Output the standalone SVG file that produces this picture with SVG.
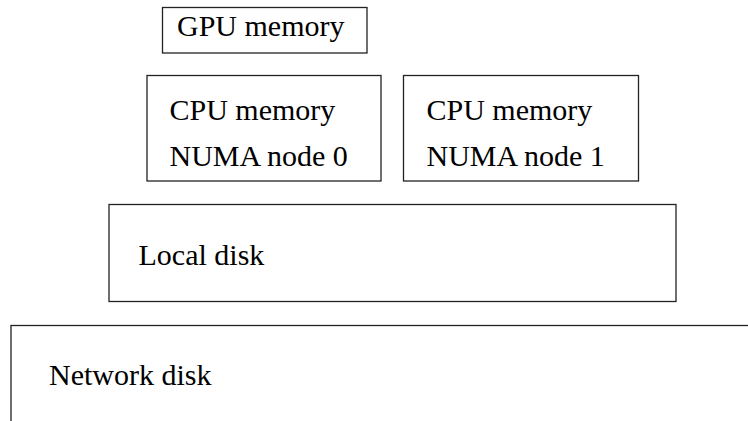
<svg xmlns="http://www.w3.org/2000/svg" width="748" height="421" viewBox="0 0 748 421">
<style>
.box{fill:#fff;stroke:#222;stroke-width:1.3}
.t{font-family:"Liberation Serif","Times New Roman",serif;font-size:30px;fill:#000}
</style>
<rect width="748" height="421" fill="#fff"/>
<g id="gpu-memory">
<rect class="box" x="162.5" y="7.5" width="204.5" height="45.5"/>
<text class="t" x="177" y="36">GPU memory</text>
</g>
<g id="cpu-numa0">
<rect class="box" x="147" y="75.5" width="234" height="105.5"/>
<text class="t" x="169.5" y="120">CPU memory</text>
<text class="t" x="169.5" y="166">NUMA node 0</text>
</g>
<g id="cpu-numa1">
<rect class="box" x="403.5" y="75.5" width="235" height="105.5"/>
<text class="t" x="426.5" y="120">CPU memory</text>
<text class="t" x="426.5" y="166">NUMA node 1</text>
</g>
<g id="local-disk">
<rect class="box" x="109" y="204.5" width="567" height="97"/>
<text class="t" x="138.5" y="265">Local disk</text>
</g>
<g id="network-disk">
<rect class="box" x="11" y="325.5" width="800" height="200"/>
<text class="t" x="49" y="385">Network disk</text>
</g>
<g id="connectors"></g>
</svg>
